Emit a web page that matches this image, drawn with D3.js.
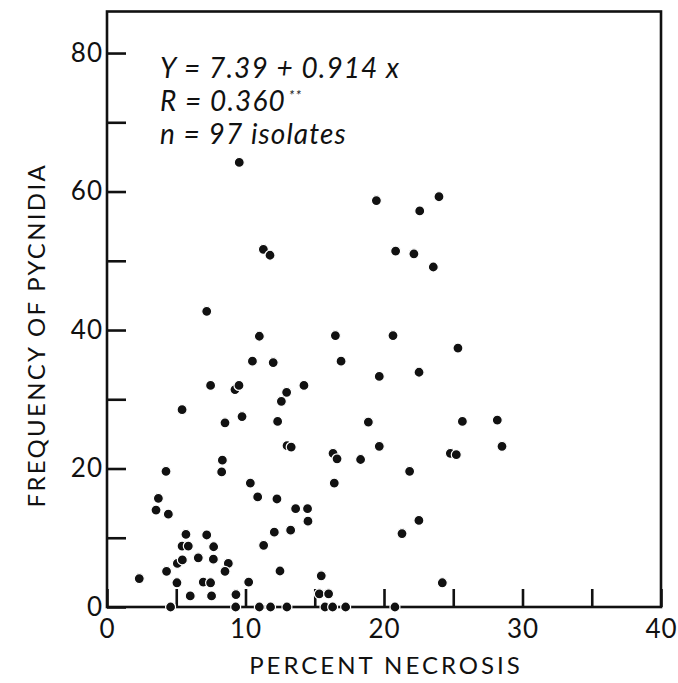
<!DOCTYPE html>
<html><head><meta charset="utf-8">
<script src="https://cdn.jsdelivr.net/npm/d3@7/dist/d3.min.js"></script>
<style>
html,body{margin:0;padding:0;background:#fff;}
text{font-family:"Lato","DejaVu Sans",sans-serif;fill:#111;}
</style></head>
<body>
<svg id="chart" width="678" height="683"></svg>
<script>
// Percent necrosis (x) for each isolate
const necrosis = [9.55,11.29,11.77,7.2,11.0,10.5,12.0,7.48,9.24,9.53,12.97,16.49,20.65,16.9,19.66,12.59,14.22,5.42,8.52,9.75,12.32,18.87,19.45,23.97,22.58,20.84,22.16,23.56,25.34,22.53,19.66,13.0,13.3,16.32,16.61,18.31,8.33,8.28,4.26,10.35,16.41,10.88,12.27,3.71,3.54,4.43,13.62,14.48,14.51,13.26,12.08,11.31,5.70,7.2,5.42,5.87,7.70,6.59,7.68,5.08,5.44,8.76,8.52,4.30,2.33,12.49,15.47,5.05,6.95,7.48,10.23,6.01,7.55,9.31,15.33,16.0,4.59,9.29,11.0,11.81,12.99,15.74,16.29,17.23,20.79,21.3,25.66,28.18,28.52,24.79,25.22,21.85,22.52,24.21];
// Frequency of pycnidia (y) for each isolate
const pycnidia = [64.2,51.65,50.8,42.7,39.1,35.5,35.3,32.0,31.4,32.0,31.0,39.2,39.2,35.5,33.3,29.7,32.0,28.5,26.6,27.5,26.8,26.7,58.7,59.25,57.2,51.4,51.0,49.1,37.4,33.9,23.2,23.3,23.1,22.2,21.4,21.3,21.2,19.5,19.6,17.9,17.9,15.9,15.6,15.7,14.0,13.4,14.2,14.2,12.4,11.1,10.8,8.9,10.5,10.4,8.8,8.8,8.7,7.1,6.9,6.3,6.8,6.3,5.15,5.15,4.1,5.2,4.5,3.5,3.6,3.5,3.6,1.6,1.6,1.8,1.9,1.9,0,0,0,0,0,0,0,0,0,10.6,26.8,27.0,23.2,22.2,22.0,19.6,12.5,3.5];
const xTicks = [0,5,10,15,20,25,30,35,40];
const xTickLabels = ["0","","10","","20","","30","","40"];
const yTicks = [0,10,20,30,40,50,60,70,80];
const yTickLabels = ["0","","20","","40","","60","","80"];
const xDomain = [0,40];
const yDomain = [0,86];
const eqLines = ["Y = 7.39 + 0.914 x","R = 0.360","n = 97 isolates"];
const xTitle = "PERCENT NECROSIS";
const yTitle = "FREQUENCY OF PYCNIDIA";

const svg = d3.select("#chart");
const m = {left:107, right:17, top:11.5, bottom:76};
const W = 678, H = 683;
const x = d3.scaleLinear().domain(xDomain).range([m.left, W - m.right]);
const y = d3.scaleLinear().domain(yDomain).range([H - m.bottom, m.top]);

const ink = "#111";
// frame
svg.append("rect")
  .attr("x", x(xDomain[0])).attr("y", y(yDomain[1]))
  .attr("width", x(xDomain[1]) - x(xDomain[0]))
  .attr("height", y(yDomain[0]) - y(yDomain[1]))
  .attr("fill","none").attr("stroke",ink).attr("stroke-width",2.6);

// y axis
const yAxis = d3.axisLeft(y).tickValues(yTicks)
  .tickFormat((d,i)=>yTickLabels[i]).tickSize(-19).tickPadding(4);
const gy = svg.append("g").attr("transform",`translate(${x(0)},0)`).call(yAxis);
gy.select(".domain").remove();
gy.selectAll(".tick line").attr("stroke",ink).attr("stroke-width",2.6);
gy.selectAll(".tick text").attr("font-size",26).attr("fill",ink)
  .style("font-family","Lato, sans-serif").style("font-weight",400).attr("letter-spacing",1);

// x axis
const xAxis = d3.axisBottom(x).tickValues(xTicks)
  .tickFormat((d,i)=>xTickLabels[i]).tickSize(-18).tickPadding(13);
const gx = svg.append("g").attr("transform",`translate(0,${y(0)})`).call(xAxis);
gx.select(".domain").remove();
gx.selectAll(".tick line").attr("stroke",ink).attr("stroke-width",2.6);
gx.selectAll(".tick text").attr("font-size",26).attr("fill",ink)
  .style("font-family","Lato, sans-serif").style("font-weight",400).attr("letter-spacing",1);

// points
const pts = necrosis.map((v,i)=>({x:v,y:pycnidia[i]}));
svg.append("g").selectAll("circle").data(pts).join("circle")
  .attr("cx",d=>x(d.x)).attr("cy",d=>y(d.y)).attr("r",5)
  .attr("fill",ink).attr("stroke","#fff").attr("stroke-width",1.2);

// equation text
const eq = svg.append("g").attr("font-style","italic");
eqLines.forEach((t,i)=>{
  const tx = eq.append("text").attr("x",160).attr("y",78 + i*33)
    .attr("font-size",28).attr("letter-spacing",1.1).style("font-weight",400).text(t);
  if(i===1){ tx.append("tspan").attr("dy",-11).attr("dx",3).attr("font-size",14).text("**"); }
});

// titles
svg.append("text").attr("x",(x(0)+x(40))/2 + 2).attr("y",674)
  .attr("text-anchor","middle").attr("font-size",24).attr("letter-spacing",3)
  .style("font-weight",400).text(xTitle);
svg.append("text").attr("transform",`translate(45,${(y(0)+y(86))/2 + 26}) rotate(-90)`)
  .attr("text-anchor","middle").attr("font-size",24).attr("letter-spacing",2.3)
  .style("font-weight",400).text(yTitle);
</script>
</body></html>
